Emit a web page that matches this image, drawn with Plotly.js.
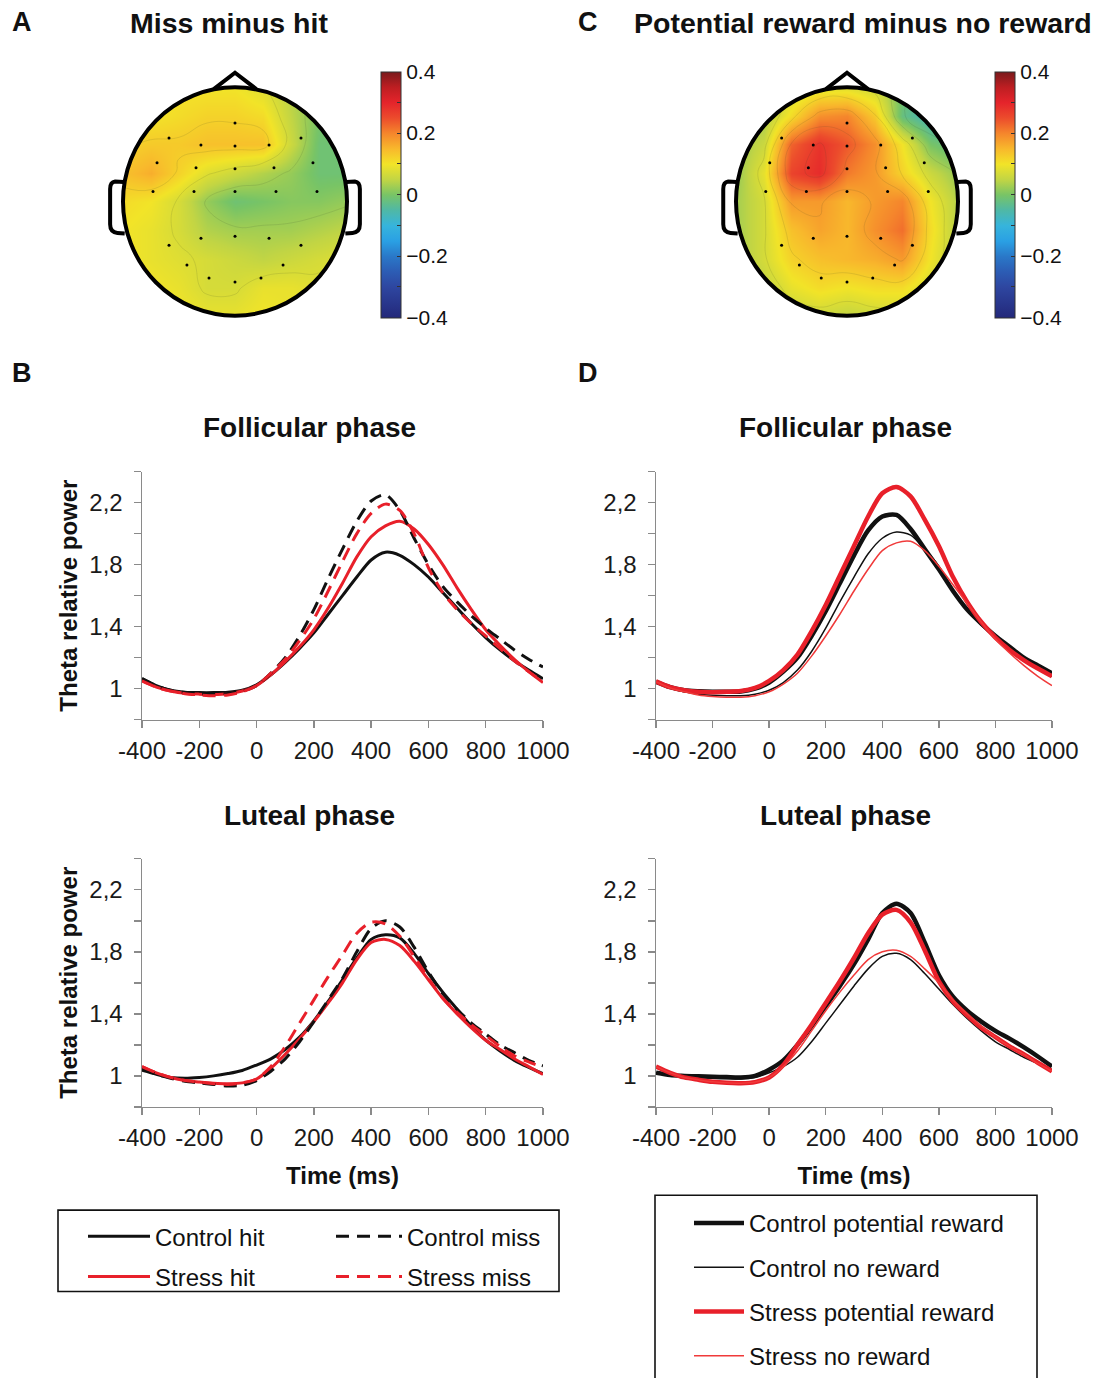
<!DOCTYPE html>
<html>
<head>
<meta charset="utf-8">
<script src="https://cdn.plot.ly/plotly-3.0.1.min.js"></script>
<style>
html,body{margin:0;padding:0;background:#fff;width:1097px;height:1378px;overflow:hidden;}
#chart{position:absolute;left:0;top:0;width:1097px;height:1378px;}
</style>
</head>
<body>
<div id="chart"></div>
<script>
// ---------------- DATA ----------------
const times = [-400,-350,-300,-250,-200,-150,-100,-50,0,50,100,150,200,250,300,350,400,450,500,550,600,650,700,750,800,850,900,950,1000];

// Panel B - Follicular phase
const folControlHit  = [1.065,1.02,0.99,0.978,0.975,0.975,0.978,0.99,1.025,1.09,1.17,1.26,1.36,1.48,1.60,1.72,1.83,1.88,1.86,1.80,1.72,1.62,1.52,1.42,1.33,1.25,1.18,1.12,1.065];
const folControlMiss = [1.065,1.02,0.99,0.975,0.968,0.965,0.97,0.985,1.02,1.10,1.20,1.34,1.51,1.71,1.90,2.08,2.21,2.25,2.15,1.97,1.80,1.66,1.56,1.47,1.39,1.32,1.25,1.19,1.14];
const folStressHit   = [1.05,1.01,0.985,0.97,0.965,0.963,0.968,0.985,1.02,1.09,1.175,1.27,1.38,1.52,1.68,1.85,1.98,2.05,2.08,2.03,1.93,1.80,1.65,1.51,1.38,1.28,1.19,1.11,1.04];
const folStressMiss  = [1.05,1.01,0.985,0.968,0.96,0.955,0.96,0.98,1.02,1.10,1.19,1.31,1.45,1.63,1.82,2.0,2.13,2.19,2.15,2.0,1.78,1.62,1.51,1.42,1.34,1.26,1.18,1.11,1.045];

// Panel B - Luteal phase
const lutControlHit  = [1.036,1.01,0.99,0.985,0.99,1.0,1.015,1.035,1.07,1.11,1.17,1.25,1.355,1.48,1.62,1.76,1.88,1.91,1.89,1.79,1.66,1.54,1.43,1.32,1.23,1.16,1.10,1.055,1.015];
const lutControlMiss = [1.05,1.01,0.985,0.965,0.955,0.945,0.935,0.94,0.97,1.03,1.11,1.22,1.35,1.49,1.63,1.80,1.95,2.0,1.96,1.83,1.67,1.53,1.43,1.34,1.27,1.20,1.15,1.10,1.065];
const lutStressHit   = [1.06,1.02,0.99,0.97,0.96,0.953,0.95,0.955,0.98,1.05,1.14,1.24,1.35,1.47,1.60,1.75,1.86,1.88,1.84,1.74,1.62,1.50,1.40,1.31,1.23,1.17,1.11,1.06,1.01];
const lutStressMiss  = [1.06,1.02,0.99,0.97,0.96,0.95,0.945,0.955,0.98,1.06,1.19,1.34,1.49,1.64,1.78,1.92,1.99,1.98,1.90,1.77,1.63,1.50,1.41,1.33,1.26,1.19,1.13,1.09,1.055];

// Panel D - Follicular phase
const folCtrlPotReward = [1.045,1.01,0.99,0.983,0.98,0.98,0.982,1.0,1.04,1.11,1.2,1.34,1.5,1.68,1.86,2.02,2.11,2.12,2.03,1.90,1.77,1.63,1.51,1.42,1.34,1.27,1.20,1.15,1.10];
const folCtrlNoReward  = [1.045,1.005,0.98,0.965,0.958,0.955,0.955,0.965,0.99,1.04,1.12,1.24,1.39,1.56,1.72,1.87,1.97,2.01,1.99,1.90,1.79,1.64,1.51,1.41,1.33,1.26,1.19,1.13,1.08];
const folStrPotReward  = [1.047,1.01,0.99,0.98,0.978,0.98,0.985,1.005,1.05,1.12,1.22,1.37,1.54,1.73,1.92,2.11,2.26,2.30,2.24,2.09,1.92,1.72,1.56,1.43,1.33,1.25,1.185,1.13,1.08];
const folStrNoReward   = [1.045,1.005,0.98,0.96,0.95,0.945,0.945,0.955,0.98,1.03,1.10,1.21,1.34,1.48,1.63,1.77,1.89,1.94,1.95,1.89,1.79,1.67,1.55,1.43,1.32,1.23,1.15,1.08,1.02];

// Panel D - Luteal phase
const lutCtrlPotReward = [1.02,1.005,1.0,0.997,0.995,0.992,0.99,1.0,1.04,1.1,1.2,1.32,1.45,1.58,1.72,1.88,2.05,2.11,2.05,1.86,1.65,1.51,1.42,1.35,1.29,1.24,1.185,1.125,1.06];
const lutCtrlNoReward  = [1.02,1.005,0.995,0.99,0.985,0.982,0.98,0.99,1.02,1.06,1.12,1.22,1.34,1.46,1.58,1.69,1.77,1.79,1.75,1.66,1.56,1.46,1.37,1.29,1.22,1.17,1.12,1.08,1.04];
const lutStrPotReward  = [1.06,1.02,0.99,0.975,0.962,0.955,0.953,0.96,0.99,1.07,1.2,1.33,1.47,1.61,1.76,1.92,2.04,2.07,1.99,1.81,1.61,1.48,1.39,1.31,1.25,1.19,1.14,1.085,1.03];
const lutStrNoReward   = [1.06,1.02,0.99,0.975,0.962,0.955,0.952,0.96,0.99,1.06,1.16,1.29,1.42,1.54,1.65,1.75,1.80,1.81,1.77,1.69,1.60,1.49,1.40,1.32,1.25,1.19,1.14,1.08,1.03];

// Axis ticks
const xTickVals = [-400,-200,0,200,400,600,800,1000];
const xTickText = ['-400','-200','0','200','400','600','800','1000'];
const yTickVals = [0.8,1.0,1.2,1.4,1.6,1.8,2.0,2.2,2.4];
const yTickText = ['','1','','1,4','','1,8','','2,2',''];
const cbTickVals = [-0.4,-0.3,-0.2,-0.1,0,0.1,0.2,0.3,0.4];
const cbTickText = ['\u22120.4','','\u22120.2','','0','','0.2','','0.4'];

// Topographic maps: grid (head radius = 1), rows listed from front (top) to back (bottom)
const gridU = [-1,-0.75,-0.5,-0.25,0,0.25,0.5,0.75,1];
const gridV = [1,0.75,0.5,0.25,0,-0.25,-0.5,-0.75,-1];
const topoMissMinusHit = [
  [0.10,0.10,0.10,0.10,0.10,0.08,0.04,0.01,-0.01],
  [0.10,0.10,0.11,0.12,0.12,0.11,0.05,0.00,-0.01],
  [0.12,0.13,0.13,0.14,0.14,0.14,0.06,-0.01,-0.01],
  [0.14,0.16,0.12,0.08,0.06,0.04,0.02,-0.01,-0.01],
  [0.11,0.10,0.07,0.02,-0.01,0.00,0.01,0.01,0.02],
  [0.10,0.09,0.07,0.04,0.03,0.03,0.03,0.04,0.05],
  [0.10,0.09,0.08,0.07,0.06,0.05,0.06,0.07,0.08],
  [0.10,0.10,0.09,0.07,0.07,0.09,0.09,0.08,0.08],
  [0.10,0.10,0.10,0.09,0.09,0.10,0.09,0.08,0.08]
];
const topoRewardMinusNo = [
  [0.05,0.05,0.06,0.08,0.08,0.06,0.00,-0.06,-0.08],
  [0.02,0.03,0.11,0.19,0.20,0.13,-0.02,-0.07,-0.08],
  [0.02,0.06,0.23,0.28,0.24,0.19,0.10,0.00,-0.03],
  [0.02,0.09,0.26,0.29,0.21,0.18,0.12,0.06,0.02],
  [0.03,0.07,0.18,0.18,0.15,0.18,0.20,0.10,0.04],
  [0.03,0.07,0.14,0.17,0.15,0.19,0.22,0.11,0.04],
  [0.03,0.07,0.12,0.14,0.15,0.16,0.18,0.10,0.04],
  [0.03,0.05,0.09,0.11,0.10,0.11,0.11,0.07,0.03],
  [0.03,0.04,0.05,0.06,0.05,0.06,0.06,0.04,0.03]
];
// Electrode positions (head radius = 1)
const elecU = [0,-0.589,-0.304,0,0.304,0.589,-0.696,-0.348,0,0.348,0.696,-0.732,-0.366,0,0.366,0.732,-0.589,-0.304,0,0.304,0.589,-0.429,0.429,-0.232,0,0.232];
const elecV = [0.687,0.557,0.496,0.487,0.496,0.557,0.339,0.296,0.287,0.296,0.339,0.087,0.087,0.087,0.087,0.087,-0.383,-0.322,-0.304,-0.322,-0.383,-0.557,-0.557,-0.670,-0.704,-0.670];

// ---------------- STYLE / LAYOUT ----------------
const W = 1097, H = 1378;
const X = px => px / W;
const Y = py => 1 - py / H;
const FONT = 'Liberation Sans, Arial, Helvetica, sans-serif';
const BLACK = '#111111', RED = '#e8202a', RED_LIGHT = '#f03a3a';
const AXC = '#8a8a8a';

const jet = [
  [0,'#23287a'],[0.125,'#2e46a0'],[0.1875,'#2c5cb4'],[0.25,'#2a78c8'],[0.3125,'#2aa0e4'],
  [0.375,'#36b4dc'],[0.4375,'#4fb8a6'],[0.5,'#78c466'],[0.5625,'#c2d544'],[0.625,'#f2e428'],
  [0.6875,'#f8b82c'],[0.75,'#f5862c'],[0.8125,'#ec4c2c'],[0.875,'#e5242b'],[0.9375,'#be1e22'],[1,'#7a1a1c']
];

const traces = [];
function line(x, y, xa, ya, name, color, width, dash, legend, show) {
  traces.push({
    type:'scatter', mode:'lines', x:x, y:y, xaxis:xa, yaxis:ya, name:name,
    line:{color:color, width:width, dash:dash, shape:'spline', smoothing:0.8},
    legend:legend, legendgroup:name, showlegend:show, hoverinfo:'skip'
  });
}
const DASH = '13px,8px';
// B follicular (legend shown)
line(times, folControlHit,  'x','y','Control hit', BLACK, 3, 'solid', 'legend', true);
line(times, folStressHit,   'x','y','Stress hit', RED, 3, 'solid', 'legend', true);
line(times, folControlMiss, 'x','y','Control miss', BLACK, 3, DASH, 'legend2', true);
line(times, folStressMiss,  'x','y','Stress miss', RED, 3, DASH, 'legend2', true);
// B luteal
line(times, lutControlHit,  'x2','y2','Control hit', BLACK, 3, 'solid', 'legend', false);
line(times, lutStressHit,   'x2','y2','Stress hit', RED, 3, 'solid', 'legend', false);
line(times, lutControlMiss, 'x2','y2','Control miss', BLACK, 3, DASH, 'legend2', false);
line(times, lutStressMiss,  'x2','y2','Stress miss', RED, 3, DASH, 'legend2', false);
// D follicular
line(times, folCtrlPotReward, 'x3','y3','Control potential reward', BLACK, 4.5, 'solid', 'legend3', true);
line(times, folCtrlNoReward,  'x3','y3','Control no reward', BLACK, 1.5, 'solid', 'legend3', true);
line(times, folStrPotReward,  'x3','y3','Stress potential reward', RED, 4.5, 'solid', 'legend3', true);
line(times, folStrNoReward,   'x3','y3','Stress no reward', RED_LIGHT, 1.5, 'solid', 'legend3', true);
// D luteal
line(times, lutCtrlPotReward, 'x4','y4','Control potential reward', BLACK, 4.5, 'solid', 'legend3', false);
line(times, lutCtrlNoReward,  'x4','y4','Control no reward', BLACK, 1.5, 'solid', 'legend3', false);
line(times, lutStrPotReward,  'x4','y4','Stress potential reward', RED, 4.5, 'solid', 'legend3', false);
line(times, lutStrNoReward,   'x4','y4','Stress no reward', RED_LIGHT, 1.5, 'solid', 'legend3', false);

// Topomaps
const vAsc = gridV.slice().reverse();
function topo(z, xa, ya, cbx) {
  const zAsc = z.slice().reverse();
  traces.push({
    type:'heatmap', x:gridU, y:vAsc, z:zAsc, xaxis:xa, yaxis:ya, zsmooth:'best',
    colorscale:jet, zmin:-0.4, zmax:0.4, showlegend:false, hoverinfo:'skip',
    colorbar:{x:X(cbx), xanchor:'left', xpad:0, y:Y(196), yanchor:'middle', ypad:0,
      len:246, lenmode:'pixels', thickness:20, thicknessmode:'pixels',
      outlinewidth:1, outlinecolor:'#333', borderwidth:0,
      tickmode:'array', tickvals:cbTickVals, ticktext:cbTickText, ticks:'inside', ticklen:4,
      tickcolor:'#333', tickwidth:1, tickfont:{size:21, color:'#111', family:FONT}}
  });
  traces.push({
    type:'contour', x:gridU, y:vAsc, z:zAsc, xaxis:xa, yaxis:ya, showscale:false,
    autocontour:false, contours:{coloring:'none', start:-0.375, end:0.375, size:0.05},
    line:{color:'rgba(40,60,40,0.15)', width:0.8, smoothing:1.3}, showlegend:false, hoverinfo:'skip'
  });
  traces.push({
    type:'scatter', mode:'markers', x:elecU, y:elecV, xaxis:xa, yaxis:ya,
    marker:{color:'#000', size:3}, showlegend:false, hoverinfo:'skip'
  });
}
topo(topoMissMinusHit, 'x5','y5', 381);
topo(topoRewardMinusNo, 'x6','y6', 995);

// Head outline shapes
function circlePath(r) {
  let p = '';
  for (let i = 0; i <= 96; i++) {
    const a = 2 * Math.PI * i / 96;
    p += (i === 0 ? 'M' : 'L') + (r * Math.cos(a)).toFixed(4) + ',' + (r * Math.sin(a)).toFixed(4);
  }
  return p + 'Z';
}
function headShapes(xr, yr) {
  const s = [];
  const m = 1.17;
  s.push({type:'path', xref:xr, yref:yr, layer:'above', fillrule:'evenodd',
    path:`M${-m},${-m}L${m},${-m}L${m},${m}L${-m},${m}Z` + circlePath(1.005),
    fillcolor:'#ffffff', line:{width:0}});
  s.push({type:'circle', xref:xr, yref:yr, layer:'above', x0:-1, x1:1, y0:-1, y1:1,
    line:{color:'#000', width:4}});
  s.push({type:'path', xref:xr, yref:yr, layer:'above',
    path:'M-0.19,0.985L0,1.128L0.19,0.985', line:{color:'#000', width:4}});
  s.push({type:'path', xref:xr, yref:yr, layer:'above',
    path:'M-0.995,0.17L-1.07,0.175Q-1.115,0.17 -1.115,0.11L-1.115,-0.2Q-1.115,-0.27 -1.05,-0.275L-0.985,-0.28',
    line:{color:'#000', width:4}});
  s.push({type:'path', xref:xr, yref:yr, layer:'above',
    path:'M0.995,0.17L1.07,0.175Q1.115,0.17 1.115,0.11L1.115,-0.2Q1.115,-0.27 1.05,-0.275L0.985,-0.28',
    line:{color:'#000', width:4}});
  return s;
}

const shapes = [].concat(headShapes('x5','y5'), headShapes('x6','y6'));
// legend frames
shapes.push({type:'rect', xref:'paper', yref:'paper', x0:X(58), x1:X(559), y0:Y(1301), y1:Y(1219),
  line:{color:'#111', width:1.6}, fillcolor:'rgba(0,0,0,0)'});
shapes.push({type:'rect', xref:'paper', yref:'paper', x0:X(655), x1:X(1037), y0:Y(1390), y1:Y(1204),
  line:{color:'#111', width:1.6}, fillcolor:'rgba(0,0,0,0)'});

const xBase = {range:[-400,1000], tickmode:'array', tickvals:xTickVals, ticktext:xTickText,
  ticks:'outside', ticklen:7, tickwidth:1.5, tickcolor:AXC, showline:true, linecolor:AXC, linewidth:1.5,
  showgrid:false, zeroline:false, tickfont:{size:24, color:'#1a1a1a', family:FONT}, fixedrange:true,
  ticklabelstandoff:2};
const yBase = {range:[0.8,2.4], tickmode:'array', tickvals:yTickVals, ticktext:yTickText,
  ticks:'outside', ticklen:7, tickwidth:1.5, tickcolor:AXC, showline:true, linecolor:AXC, linewidth:1.5,
  showgrid:false, zeroline:false, tickfont:{size:24, color:'#1a1a1a', family:FONT}, fixedrange:true,
  ticklabelstandoff:6};
const yTitle = {text:'<b>Theta relative power</b>', font:{size:24, color:'#111', family:FONT}, standoff:5};
const xTitle = {text:'<b>Time (ms)</b>', font:{size:24, color:'#111', family:FONT}, standoff:17};
const hidden = {visible:false, fixedrange:true, showgrid:false, zeroline:false};

const legendBase = {orientation:'v', xanchor:'left', yanchor:'top', bgcolor:'rgba(0,0,0,0)',
  borderwidth:0, font:{size:24, color:'#111', family:FONT}, traceorder:'grouped', itemclick:false, itemdoubleclick:false};

function ann(text, px, py, size) {
  return {text:text, x:X(px), y:Y(py), xref:'paper', yref:'paper', showarrow:false,
    xanchor:'center', yanchor:'middle', font:{size:size, color:'#111', family:FONT}};
}

const layout = {
  width:W, height:H, margin:{l:0, r:0, t:0, b:0}, paper_bgcolor:'#fff', plot_bgcolor:'rgba(0,0,0,0)',
  font:{family:FONT, color:'#111'}, showlegend:true,
  xaxis:  Object.assign({}, xBase, {domain:[X(142), X(543)], anchor:'y'}),
  yaxis:  Object.assign({}, yBase, {domain:[Y(725), Y(475)], anchor:'x', title:yTitle}),
  xaxis2: Object.assign({}, xBase, {domain:[X(142), X(543)], anchor:'y2', title:xTitle}),
  yaxis2: Object.assign({}, yBase, {domain:[Y(1115), Y(865)], anchor:'x2', title:yTitle}),
  xaxis3: Object.assign({}, xBase, {domain:[X(656), X(1052)], anchor:'y3'}),
  yaxis3: Object.assign({}, yBase, {domain:[Y(725), Y(475)], anchor:'x3'}),
  xaxis4: Object.assign({}, xBase, {domain:[X(656), X(1052)], anchor:'y4', title:xTitle}),
  yaxis4: Object.assign({}, yBase, {domain:[Y(1115), Y(865)], anchor:'x4'}),
  xaxis5: Object.assign({}, hidden, {domain:[X(100.6), X(369.4)], range:[-1.2,1.2], anchor:'y5'}),
  yaxis5: Object.assign({}, hidden, {domain:[Y(341), Y(65)], range:[-1.2,1.2], anchor:'x5'}),
  xaxis6: Object.assign({}, hidden, {domain:[X(713.8), X(980.2)], range:[-1.2,1.2], anchor:'y6'}),
  yaxis6: Object.assign({}, hidden, {domain:[Y(341), Y(65)], range:[-1.2,1.2], anchor:'x6'}),
  legend:  Object.assign({}, legendBase, {x:X(83), y:Y(1223), itemwidth:62, tracegroupgap:6}),
  legend2: Object.assign({}, legendBase, {x:X(331), y:Y(1223), itemwidth:66, tracegroupgap:6}),
  legend3: Object.assign({}, legendBase, {x:X(689), y:Y(1210), itemwidth:50, tracegroupgap:10}),
  shapes:shapes,
  annotations:[
    ann('<b>A</b>', 22, 22, 27), ann('<b>C</b>', 588, 22, 27),
    ann('<b>B</b>', 22, 376, 27), ann('<b>D</b>', 588, 376, 27),
    ann('<b>Miss minus hit</b>', 229, 23, 28.5),
    ann('<b>Potential reward minus no reward</b>', 863, 23, 28.5),
    ann('<b>Follicular phase</b>', 309.5, 431, 28),
    ann('<b>Luteal phase</b>', 309.5, 821, 28),
    ann('<b>Follicular phase</b>', 845.5, 431, 28),
    ann('<b>Luteal phase</b>', 845.5, 821, 28)
  ]
};

Plotly.newPlot('chart', traces, layout, {displayModeBar:false, staticPlot:true});
</script>
</body>
</html>
